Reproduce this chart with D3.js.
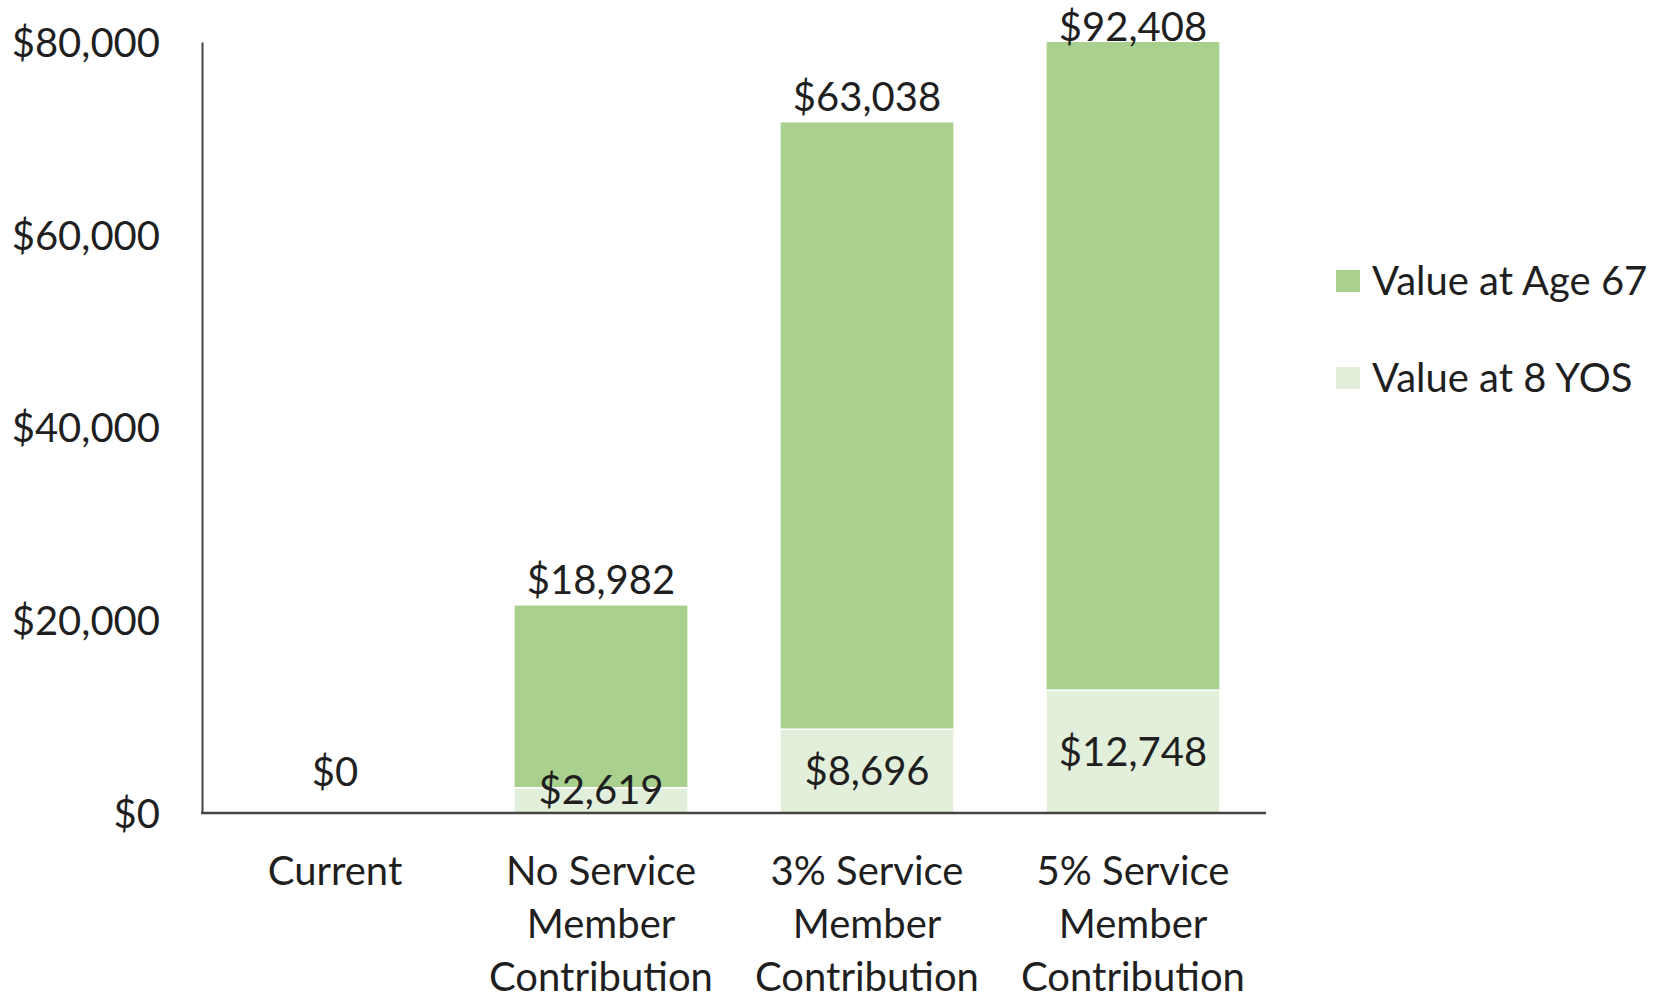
<!DOCTYPE html>
<html>
<head>
<meta charset="utf-8">
<script src="https://cdn.jsdelivr.net/npm/d3@7"></script>
<style>
    body { margin: 0; background: #fff; }
    text { font-family: Lato, "Open Sans", sans-serif; fill: #1f1f1f; }
</style>
</head>
<body>
<div id="chart"></div>
<script>

// chart values
var categories = ["Current", "No Service Member Contribution", "3% Service Member Contribution", "5% Service Member Contribution"];
var categoryLines = [["Current"], ["No Service", "Member", "Contribution"], ["3% Service", "Member", "Contribution"], ["5% Service", "Member", "Contribution"]];
var valueAt8YOS = [0, 2619, 8696, 12748];
var valueAtAge67 = [0, 18982, 63038, 92408];
var seriesNames = ["Value at 8 YOS", "Value at Age 67"];
var seriesColors = ["#e2efda", "#a9d08e"];
var yTicks = [0, 20000, 40000, 60000, 80000];

var width = 1673, height = 1003;
var fontSize = 40;

var svg = d3.select("#chart").append("svg")
    .attr("width", width)
    .attr("height", height);

// plot area
var plot = { left: 202, right: 1266, top: 42, bottom: 813 };

var x = d3.scaleBand()
    .domain(categories)
    .range([plot.left, plot.right])
    .paddingInner(0.345)
    .paddingOuter(0.1725);

var y = d3.scaleLinear()
    .domain([0, 80000])
    .range([plot.bottom, plot.top]);

var money = function(v) { return "$" + d3.format(",")(v); };

var rows = categories.map(function(c, i) {
    return { cat: c, yos: valueAt8YOS[i], age: valueAtAge67[i] };
});

var stack = d3.stack().keys(["yos", "age"]);
var stacked = stack(rows);

// clip bars to the plot area (the last bar runs past $80,000)
svg.append("clipPath")
    .attr("id", "plotClip")
    .append("rect")
    .attr("x", plot.left)
    .attr("y", plot.top)
    .attr("width", plot.right - plot.left)
    .attr("height", plot.bottom - plot.top);

var barLayer = svg.append("g").attr("clip-path", "url(#plotClip)");

barLayer.selectAll(".series")
    .data(stacked)
    .enter().append("g")
    .attr("class", "series")
    .attr("fill", function(d, i) { return seriesColors[i]; })
    .selectAll("rect")
    .data(function(d) { return d; })
    .enter().append("rect")
    .attr("x", function(d) { return x(d.data.cat); })
    .attr("width", x.bandwidth())
    .attr("y", function(d) { return y(d[1]); })
    .attr("height", function(d) { return y(d[0]) - y(d[1]); })
    .attr("stroke", "#fff")
    .attr("stroke-width", 1.5);

// y axis: labels only plus the line
var yAxis = d3.axisLeft(y)
    .tickValues(yTicks)
    .tickSize(0)
    .tickPadding(42)
    .tickFormat(money);

var yG = svg.append("g")
    .attr("transform", "translate(" + plot.left + ",0)")
    .call(yAxis);
yG.select(".domain").attr("stroke", "#444").attr("stroke-width", 2);
yG.selectAll("text")
    .attr("font-family", "Lato, sans-serif")
    .attr("font-size", fontSize)
    .attr("fill", "#1f1f1f")
    .attr("dy", "0.36em");

// x axis line
svg.append("line")
    .attr("x1", plot.left - 1)
    .attr("x2", plot.right)
    .attr("y1", plot.bottom)
    .attr("y2", plot.bottom)
    .attr("stroke", "#444")
    .attr("stroke-width", 2.5);

// category labels, wrapped
var catLabels = svg.selectAll(".cat-label")
    .data(categories)
    .enter().append("text")
    .attr("class", "cat-label")
    .attr("text-anchor", "middle")
    .attr("font-size", fontSize)
    .attr("x", function(d) { return x(d) + x.bandwidth() / 2; })
    .attr("y", 871);

catLabels.selectAll("tspan")
    .data(function(d, i) { return categoryLines[i]; })
    .enter().append("tspan")
    .attr("x", function() { return d3.select(this.parentNode).attr("x"); })
    .attr("dy", function(d, i) { return i == 0 ? "0.36em" : 53; })
    .text(function(d) { return d; });

// value labels for the light (8 YOS) segment
svg.selectAll(".yos-label")
    .data(rows.filter(function(d) { return d.yos > 0; }))
    .enter().append("text")
    .attr("class", "yos-label")
    .attr("text-anchor", "middle")
    .attr("font-size", fontSize)
    .attr("x", function(d) { return x(d.cat) + x.bandwidth() / 2; })
    .attr("y", function(d) {
        var c = Math.min(y(d.yos / 2), y(0) - 23);
        return c;
    })
    .attr("dy", "0.36em")
    .text(function(d) { return money(d.yos); });

// value labels for the dark (Age 67) segment, sitting above the bar
svg.selectAll(".age-label")
    .data(rows)
    .enter().append("text")
    .attr("class", "age-label")
    .attr("text-anchor", "middle")
    .attr("font-size", fontSize)
    .attr("x", function(d) { return x(d.cat) + x.bandwidth() / 2; })
    .attr("y", function(d) {
        var top = y(Math.min(d.yos + d.age, 80000));
        var c = Math.min(top - 25, y(0) - 41);
        return Math.max(c, 27);
    })
    .attr("dy", "0.36em")
    .text(function(d) { return money(d.age); });

// legend (Age 67 listed first)
var legendItems = [1, 0];
var legend = svg.selectAll(".legend")
    .data(legendItems)
    .enter().append("g")
    .attr("class", "legend")
    .attr("transform", function(d, i) { return "translate(1336," + (281 + i * 97) + ")"; });

legend.append("rect")
    .attr("x", 0)
    .attr("y", -11)
    .attr("width", 24)
    .attr("height", 22)
    .attr("fill", function(d) { return seriesColors[d]; });

legend.append("text")
    .attr("x", 36)
    .attr("y", 0)
    .attr("dy", "0.36em")
    .attr("font-size", fontSize)
    .text(function(d) { return seriesNames[d]; });

</script>
</body>
</html>
